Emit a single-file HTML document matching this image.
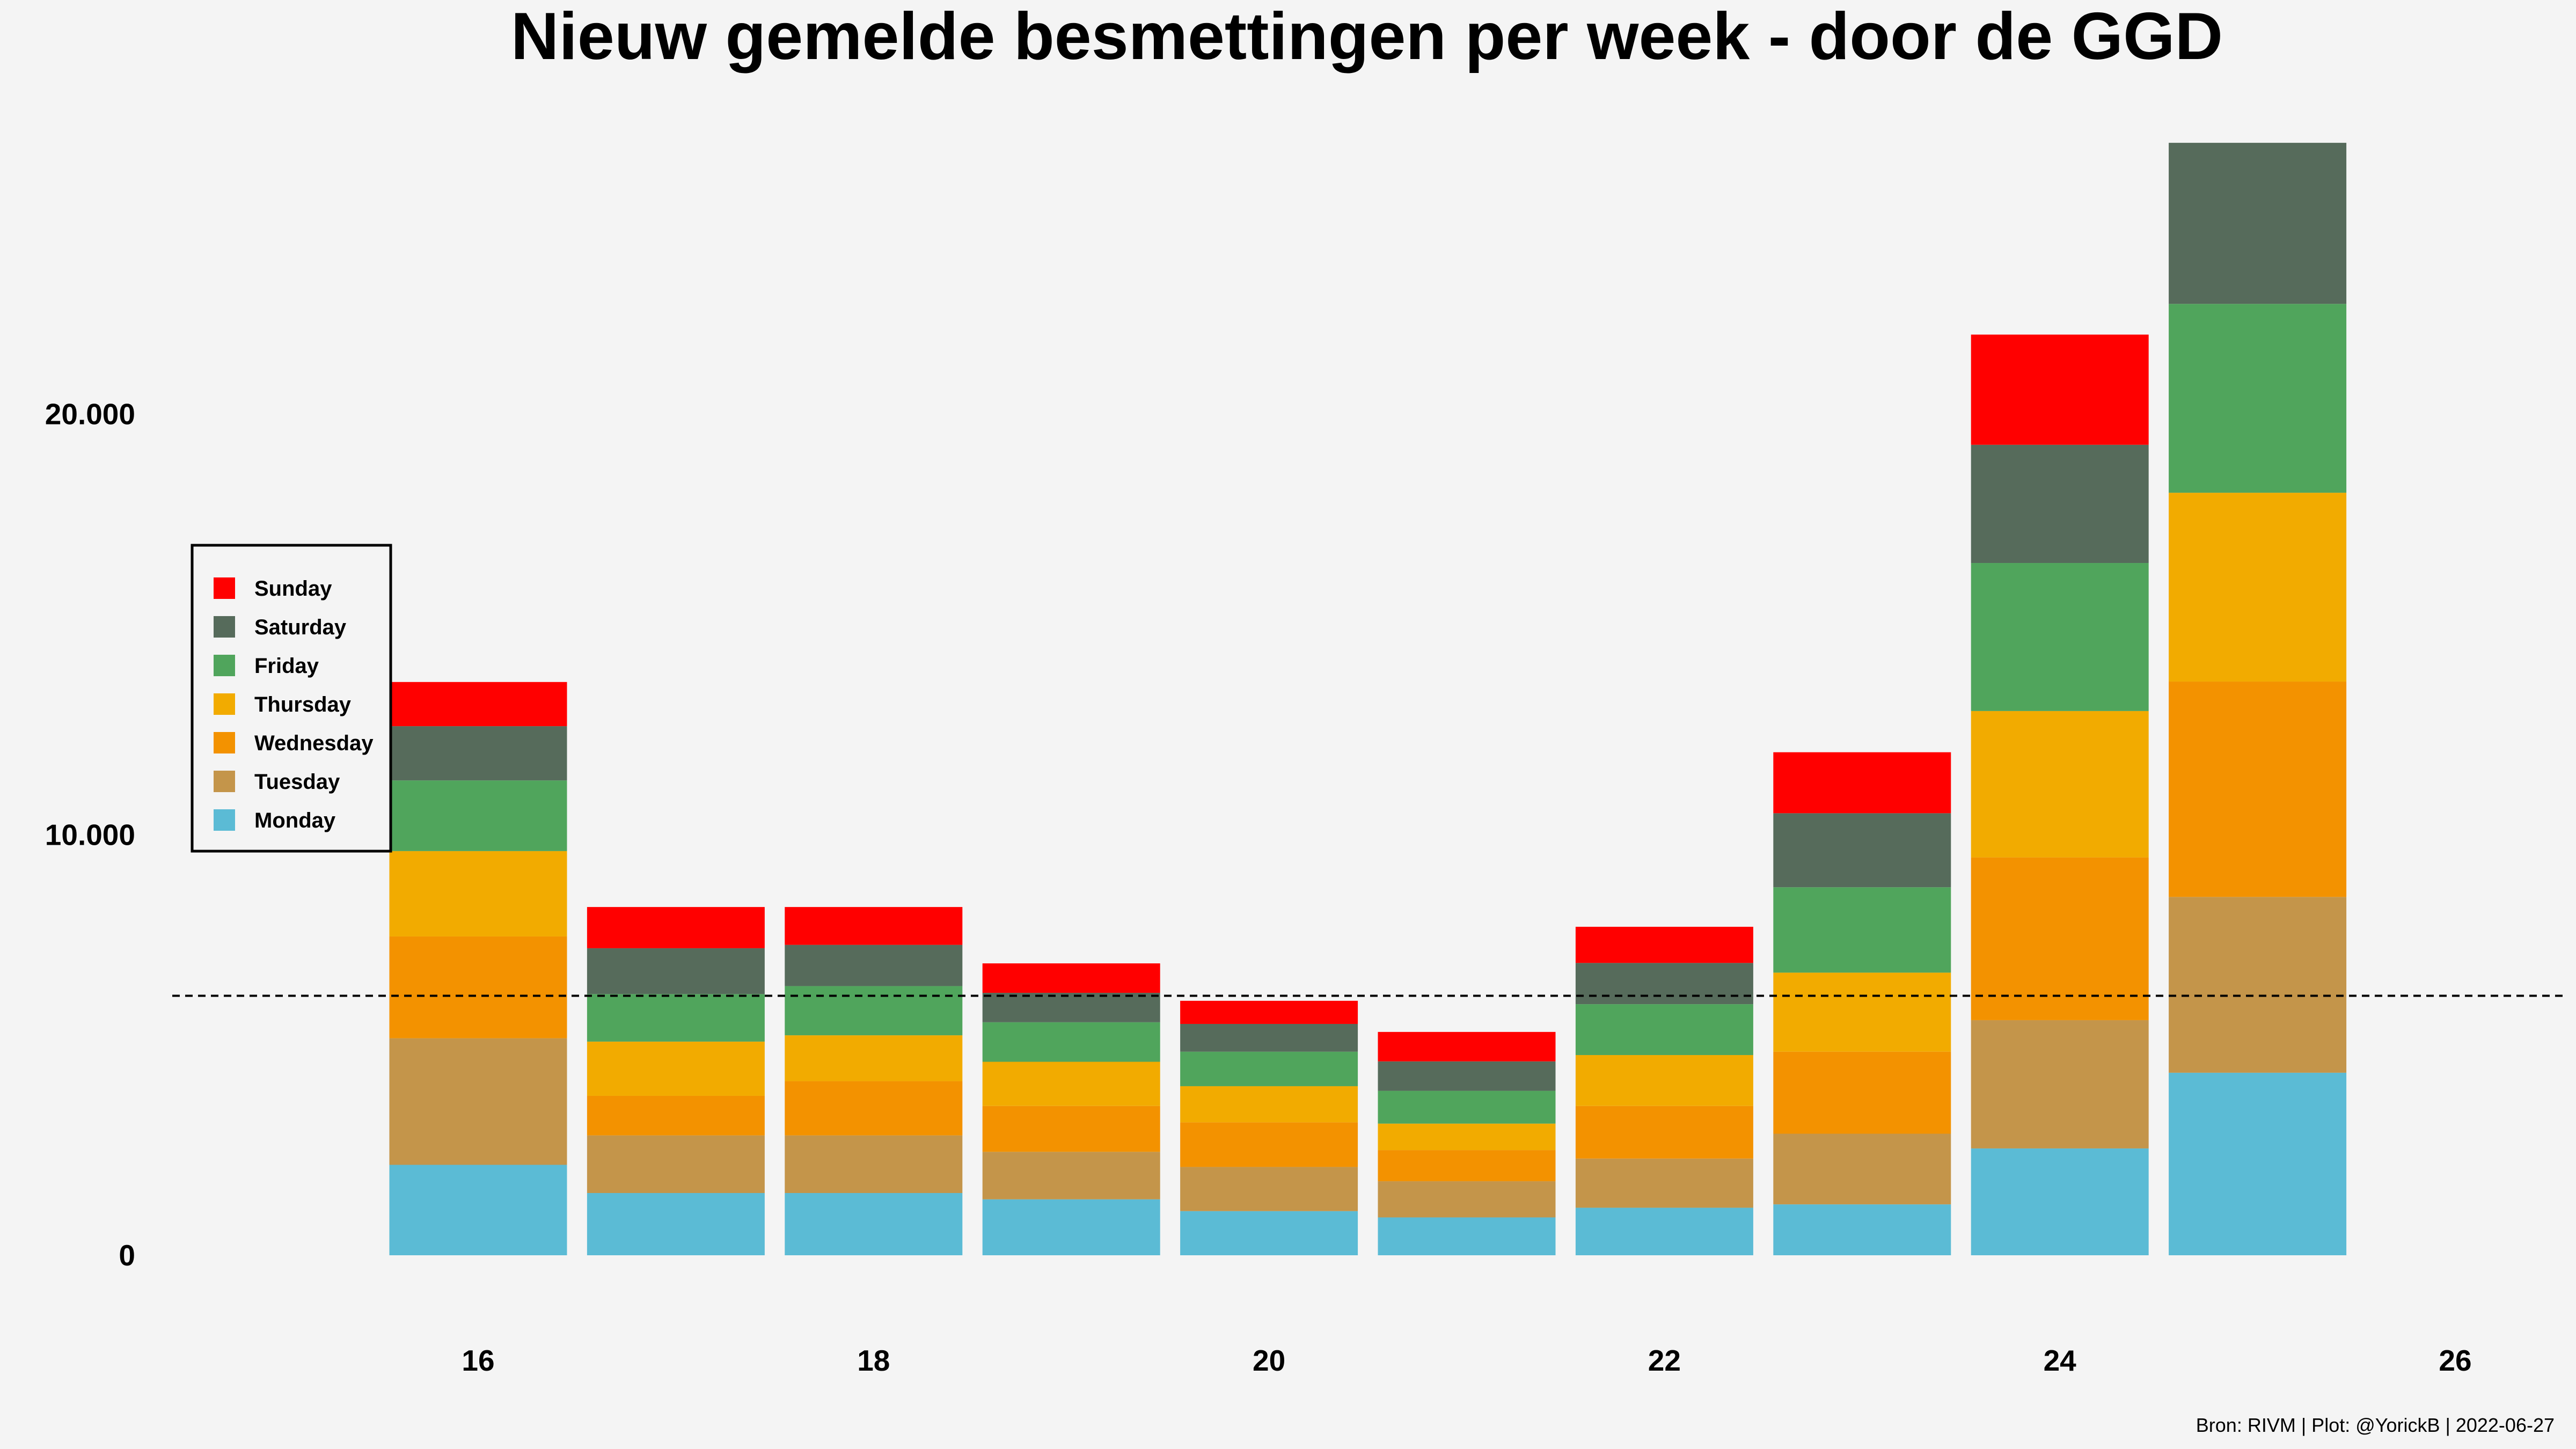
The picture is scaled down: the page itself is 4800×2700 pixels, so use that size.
<!DOCTYPE html>
<html><head><meta charset="utf-8"><style>
html,body{margin:0;padding:0;background:#f4f4f4;}
svg{display:block;font-family:"Liberation Sans",sans-serif;}
</style></head><body>
<svg id="chart" width="4800" height="2700" viewBox="0 0 4800 2700" xmlns="http://www.w3.org/2000/svg">
<rect width="4800" height="2700" fill="#f4f4f4"/>
<text x="2547" y="110" text-anchor="middle" font-size="124" font-weight="bold" fill="#000">Nieuw gemelde besmettingen per week - door de GGD</text>
<text x="4760" y="2668" text-anchor="end" font-size="36" fill="#000">Bron: RIVM | Plot: @YorickB |  2022-06-27</text>
<g id="bars"></g>
<g id="axes"></g>
<g id="legend"></g>
</svg>
<script>
const weeks = [16,17,18,19,20,21,22,23,24,25];
const days = ["Monday","Tuesday","Wednesday","Thursday","Friday","Saturday","Sunday"];
const monday    = [2150,1480,1480,1330,1050,900,1130,1210,2540,4340];
const tuesday   = [3010,1370,1370,1130,1050,860,1170,1680,3050,4180];
const wednesday = [2420,940,1290,1090,1060,740,1250,1950,3870,5120];
const thursday  = [2030,1290,1090,1050,860,630,1210,1880,3480,4490];
const friday    = [1680,1130,1170,940,820,780,1210,2030,3520,4490];
const saturday  = [1290,1090,980,700,660,700,980,1760,2810,3830];
const sunday    = [1050,980,900,700,550,700,860,1450,2620,0];
const meanLine = 6170;
const yTicks = [0,10000,20000];
const yTickLabels = ["0","10.000","20.000"];
const xTicks = [16,18,20,22,24,26];

const series = [monday,tuesday,wednesday,thursday,friday,saturday,sunday];
const colors = ["#5bbbd5","#c4954a","#f39200","#f2ab00","#50a55c","#566b5b","#ff0000"];
const NS = "http://www.w3.org/2000/svg";
const y = v => 2339 - v * 0.07837;
const x = w => 891 + (w - 16) * 368.4;
const bw = 331;
function mk(tag, attrs, parent){const e=document.createElementNS(NS,tag);for(const k in attrs)e.setAttribute(k,attrs[k]);parent.appendChild(e);return e;}

const bars = document.getElementById('bars');
weeks.forEach((w,i)=>{
  let cum=0;
  series.forEach((s,d)=>{
    const v=s[i]; if(v<=0) return;
    const r=mk('rect',{x:x(w)-bw/2,y:y(cum+v),width:bw,height:y(cum)-y(cum+v),fill:colors[d]},bars);
    
    
    cum+=v;
  });
});

const axes = document.getElementById('axes');
const ml = mk('line',{x1:321,x2:4776,y1:y(meanLine),y2:y(meanLine),stroke:"#000","stroke-width":4,"stroke-dasharray":"14 10"},axes);


yTicks.forEach((t,i)=>{
  const tx=mk('text',{x:252,y:y(t)+19,"text-anchor":"end","font-size":55,"font-weight":"bold"},axes);
  tx.textContent=yTickLabels[i];
  
  
});
xTicks.forEach(t=>{
  const tx=mk('text',{x:x(t),y:2554,"text-anchor":"middle","font-size":55,"font-weight":"bold"},axes);
  tx.textContent=t;
  
  
});

const lg = document.getElementById('legend');
const box = mk('rect',{x:358,y:1016,width:370,height:570,fill:"#f4f4f4",stroke:"#000","stroke-width":5},lg);


for(let k=6;k>=0;k--){
  const row=6-k, yy=1076+row*72;
  const sq=mk('rect',{x:398,y:yy,width:40,height:40,fill:colors[k]},lg);
  
  
  const tx=mk('text',{x:474,y:yy+34,"font-size":40,"font-weight":"bold"},lg);
  tx.textContent=days[k];
  
  
}
</script>
</body></html>
